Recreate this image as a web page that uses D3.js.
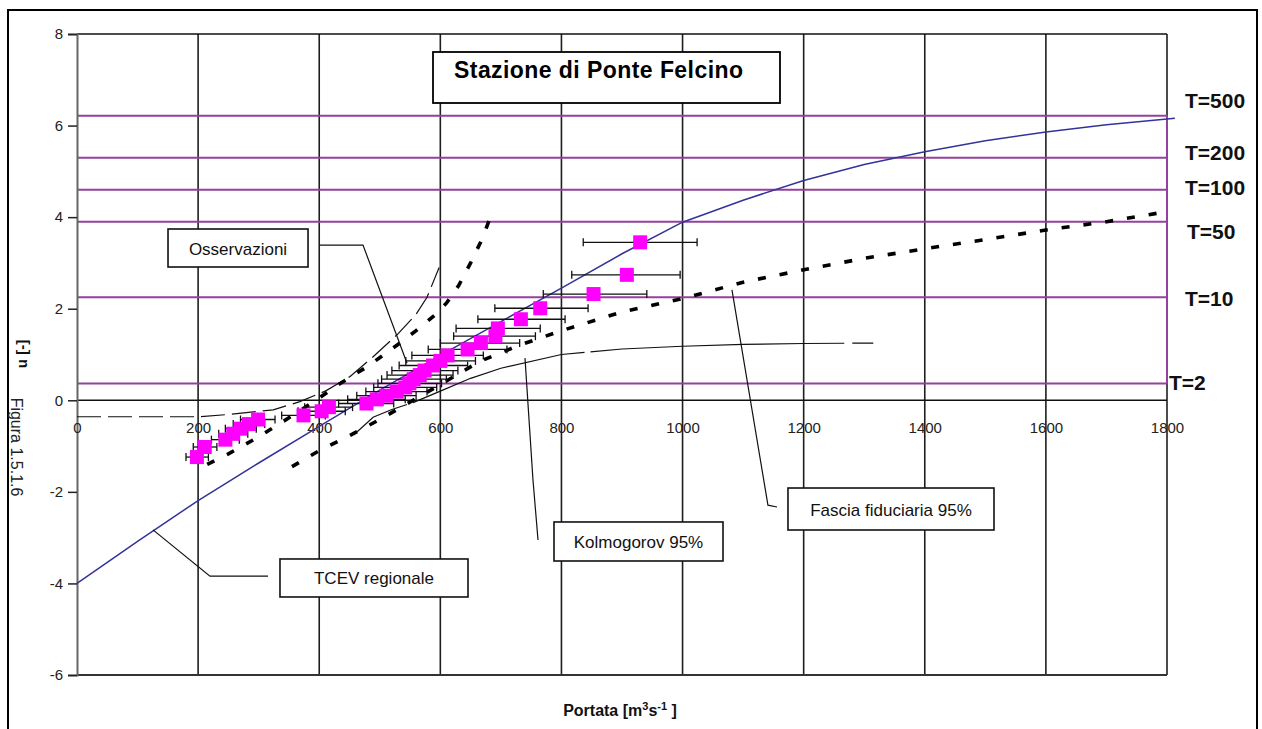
<!DOCTYPE html>
<html><head><meta charset="utf-8">
<script src="https://cdn.jsdelivr.net/npm/d3@7"></script>
<style>
html,body{margin:0;padding:0;background:#fff;}
svg{display:block;font-family:"Liberation Sans",Arial,Helvetica,sans-serif;}
</style></head><body>
<svg id="chart" width="1262" height="729"></svg>
<script>
// ---------------- DATA ----------------
const xTicks = [0,200,400,600,800,1000,1200,1400,1600,1800];
const yTicks = [8,6,4,2,0,-2,-4,-6];
const periodLabels = ["T=2","T=10","T=50","T=100","T=200","T=500"];
const periodU = [0.367,2.250,3.902,4.600,5.296,6.214];

// TCEV regionale (blue curve)
const tcevQ = [0,100,200,300,400,500,600,700,800,900,1000,1100,1200,1300,1400,1500,1600,1700,1813];
const tcevU = [-4.0,-3.08,-2.19,-1.37,-0.57,0.22,0.98,1.72,2.45,3.2,3.89,4.37,4.8,5.15,5.43,5.67,5.86,6.02,6.16];

// Observations (magenta squares) with horizontal error bars
const obsQ  = [198,211,245,258,270,284,299,374,404,416,478,495,511,528,542,549,556,566,574,588,600,612,645,667,691,695,733,765,853,908,930];
const obsU  = [-1.24,-1.02,-0.86,-0.73,-0.62,-0.52,-0.42,-0.33,-0.24,-0.15,-0.07,0.02,0.10,0.19,0.28,0.37,0.46,0.55,0.65,0.76,0.86,0.98,1.11,1.25,1.40,1.57,1.77,2.01,2.32,2.74,3.45];
const obsLo = [180,192,222,234,245,258,270,338,365,376,432,447,462,477,490,497,503,512,520,532,543,553,580,600,622,626,662,690,770,817,836];
const obsHi = [217,231,268,282,296,310,327,410,443,455,523,542,560,578,594,602,610,621,629,645,658,671,710,731,757,765,806,844,941,996,1024];

// Fascia fiduciaria 95% (bold dashed)
const bandUpQ = [215,250,300,360,400,430,480,505,530,560,590,610,630,650,670,686];
const bandUpU = [-1.40,-1.17,-0.80,-0.30,0.05,0.33,0.74,0.98,1.22,1.52,1.85,2.12,2.50,3.00,3.55,4.12];
const bandLoQ = [355,400,446,500,555,610,665,730,800,900,1000,1100,1200,1300,1400,1500,1600,1700,1800];
const bandLoU = [-1.45,-1.10,-0.80,-0.42,0.0,0.42,0.85,1.20,1.52,1.93,2.22,2.58,2.85,3.10,3.31,3.51,3.72,3.90,4.12];

// Kolmogorov 95% (thin long dash)
const kolUpQ = [0,200,250,324,368,410,451,489,530,560,578,598];
const kolUpU = [-0.36,-0.36,-0.31,-0.21,-0.03,0.20,0.52,0.95,1.45,1.88,2.25,2.90];
const kolLoQ = [460,489,520,555,600,650,700,800,900,1000,1100,1200,1315];
const kolLoU = [-0.72,-0.37,-0.20,-0.05,0.20,0.48,0.70,1.00,1.12,1.18,1.22,1.24,1.25];

const titleText = "Stazione di Ponte Felcino";
const annTexts = ["Osservazioni","TCEV regionale","Kolmogorov 95%","Fascia fiduciaria 95%"];

// ---------------- LAYOUT ----------------
const svg = d3.select("#chart");
const x = d3.scaleLinear().domain([0,1800]).range([77,1167]);
const y = d3.scaleLinear().domain([-6,8]).range([675,34]);

// outer frame
svg.append("rect").attr("x",8).attr("y",10).attr("width",1249).attr("height",740)
  .attr("fill","none").attr("stroke","#000").attr("stroke-width",2);

// vertical gridlines
svg.append("g").selectAll("line").data(xTicks.filter(d=>d>0)).join("line")
  .attr("x1",d=>x(d)).attr("x2",d=>x(d)).attr("y1",y(8)).attr("y2",y(-6))
  .attr("stroke","#1e1e1e").attr("stroke-width",1.6);

// top border, zero line, bottom line
svg.append("line").attr("x1",x(0)).attr("x2",x(1800)).attr("y1",y(8)).attr("y2",y(8)).attr("stroke","#111").attr("stroke-width",1.6);
svg.append("line").attr("x1",x(0)).attr("x2",x(1800)).attr("y1",y(0)).attr("y2",y(0)).attr("stroke","#111").attr("stroke-width",1.6);
svg.append("line").attr("x1",x(0)).attr("x2",x(1800)).attr("y1",y(-6)).attr("y2",y(-6)).attr("stroke","#333").attr("stroke-width",2);

// return period lines (purple)
const purple = "#94409e";
svg.append("g").selectAll("line").data(periodU).join("line")
  .attr("x1",x(0)).attr("x2",x(1800)).attr("y1",d=>y(d)).attr("y2",d=>y(d))
  .attr("stroke",purple).attr("stroke-width",2);
svg.append("line").attr("x1",x(1800)).attr("x2",x(1800))
  .attr("y1",y(d3.max(periodU))).attr("y2",y(d3.min(periodU)))
  .attr("stroke",purple).attr("stroke-width",2);

// y axis
const yAxis = d3.axisLeft(y).tickValues(yTicks).tickSize(9).tickPadding(5).tickFormat(d=>String(d));
const gy = svg.append("g").attr("transform",`translate(${x(0)},0)`).call(yAxis);
gy.select(".domain").attr("stroke","#666").attr("stroke-width",2);
gy.selectAll(".tick line").attr("stroke","#222").attr("stroke-width",1.5);
gy.selectAll(".tick text").attr("font-size",15).attr("fill","#222")
  .attr("font-family","'Liberation Sans',Arial,sans-serif");

// x axis labels on the u=0 line
const xAxis = d3.axisBottom(x).tickValues(xTicks).tickSize(0).tickPadding(22).tickFormat(d=>String(d));
const gx = svg.append("g").attr("transform",`translate(0,${y(0)})`).call(xAxis);
gx.select(".domain").remove();
gx.selectAll(".tick text").attr("font-size",15).attr("fill","#222")
  .attr("font-family","'Liberation Sans',Arial,sans-serif");

const line = d3.line().x(d=>x(d[0])).y(d=>y(d[1]));
const zip = (a,b)=>a.map((v,i)=>[v,b[i]]);

// Kolmogorov
svg.append("path").attr("d",line(zip(kolUpQ,kolUpU))).attr("fill","none")
  .attr("stroke","#111").attr("stroke-width",1.2).attr("stroke-dasharray","24,7");
svg.append("path").attr("d",line(zip(kolLoQ,kolLoU))).attr("fill","none")
  .attr("stroke","#111").attr("stroke-width",1.2).attr("stroke-dasharray","60,6,180,6,254,8,40");

// TCEV
svg.append("path").attr("d",line(zip(tcevQ,tcevU))).attr("fill","none")
  .attr("stroke","#33339a").attr("stroke-width",1.5);

// confidence band
[zip(bandUpQ,bandUpU), zip(bandLoQ,bandLoU)].forEach(pts=>{
  svg.append("path").attr("d",line(pts)).attr("fill","none")
    .attr("stroke","#000").attr("stroke-width",3.6).attr("stroke-dasharray","8,14");
});

// error bars
const eb = svg.append("g").attr("stroke","#111").attr("stroke-width",1.3);
obsQ.forEach((q,i)=>{
  const yy = y(obsU[i]);
  eb.append("line").attr("x1",x(obsLo[i])).attr("x2",x(obsHi[i])).attr("y1",yy).attr("y2",yy);
  eb.append("line").attr("x1",x(obsLo[i])).attr("x2",x(obsLo[i])).attr("y1",yy-4).attr("y2",yy+4);
  eb.append("line").attr("x1",x(obsHi[i])).attr("x2",x(obsHi[i])).attr("y1",yy-4).attr("y2",yy+4);
});

// squares
const sq = 14;
svg.append("g").selectAll("rect").data(obsQ).join("rect")
  .attr("x",(d)=>x(d)-sq/2).attr("y",(d,i)=>y(obsU[i])-sq/2)
  .attr("width",sq).attr("height",sq).attr("fill","#ff00ff");

// right labels
const labelDx = [2,18,20,18,18,18];
const labelDy = [-1,1,10,-2,-5,-15];
svg.append("g").selectAll("text").data(periodLabels).join("text")
  .attr("x",(d,i)=>x(1800)+labelDx[i]).attr("y",(d,i)=>y(periodU[i])+labelDy[i])
  .attr("dy","0.36em").attr("font-size",21).attr("font-weight","bold").attr("fill","#111")
  .text(d=>d);

// annotation boxes (data units) and leaders
const annBoxes = [
  [150.3,3.741,381.5,2.911],
  [335.2,-3.466,645.7,-4.296],
  [787.7,-2.658,1066.8,-3.510],
  [1174.1,-1.916,1514.3,-2.833]
];
const annLeaders = [
  [[401.3,3.39],[472.3,3.39],[545,0.81]],
  [[125.5,-2.83],[219.6,-3.84],[315.4,-3.84]],
  [[739.8,0.92],[753,-1.74],[761.3,-3.05]],
  [[1081.6,2.41],[1141,-2.29],[1156,-2.33]]
];
annLeaders.forEach(pts=>{
  svg.append("path").attr("d",line(pts)).attr("fill","none").attr("stroke","#111").attr("stroke-width",1.2);
});
annBoxes.forEach((b,i)=>{
  const x0=x(b[0]), x1=x(b[2]), y0=y(b[1]), y1=y(b[3]);
  svg.append("rect").attr("x",x0).attr("y",y0).attr("width",x1-x0).attr("height",y1-y0)
    .attr("fill","#fff").attr("stroke","#111").attr("stroke-width",1.6);
  svg.append("text").attr("x",(x0+x1)/2).attr("y",(y0+y1)/2+6.5)
    .attr("text-anchor","middle").attr("font-size",17).attr("fill","#111").text(annTexts[i]);
});

// title box
const tb = [587.9,7.607,1160.9,6.493];
svg.append("rect").attr("x",x(tb[0])).attr("y",y(tb[1])).attr("width",x(tb[2])-x(tb[0])).attr("height",y(tb[3])-y(tb[1]))
  .attr("fill","#fff").attr("stroke","#000").attr("stroke-width",1.8);
svg.append("text").attr("x",x(tb[0])+21).attr("y",y(tb[1])+26)
  .attr("font-size",23).attr("font-weight","bold").attr("fill","#000")
  .attr("textLength",289).attr("lengthAdjust","spacing").text(titleText);

// axis titles
const xt = svg.append("text").attr("x",620).attr("y",716).attr("text-anchor","middle")
  .attr("font-size",16).attr("font-weight","bold").attr("fill","#111");
xt.append("tspan").text("Portata [m");
xt.append("tspan").attr("font-size",11).attr("dy",-6).text("3");
xt.append("tspan").attr("dy",6).text("s");
xt.append("tspan").attr("font-size",11).attr("dy",-6).text("-1");
xt.append("tspan").attr("dy",6).text(" ]");

svg.append("text").attr("transform","translate(27,354) rotate(-90)").attr("text-anchor","middle")
  .attr("font-size",15).attr("font-weight","bold").attr("fill","#111").text("u [-]");
svg.append("text").attr("transform","translate(11,447) rotate(90)").attr("text-anchor","middle")
  .attr("font-size",16).attr("fill","#222")
  .text("Figura 1.5.1.6");
</script>
</body></html>
